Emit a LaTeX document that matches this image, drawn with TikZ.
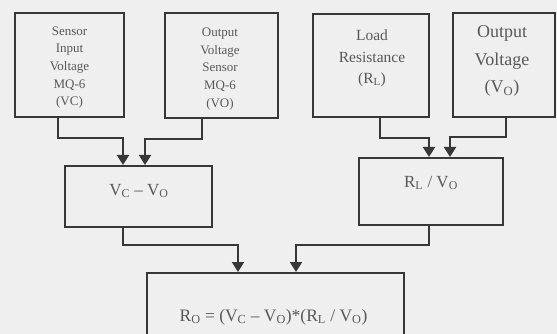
\documentclass[tikz,border=0pt]{standalone}
\usepackage{fontspec}
\setmainfont{Liberation Serif}
\usetikzlibrary{arrows.meta,positioning}
\definecolor{linea}{RGB}{55,55,55}
\definecolor{tinta}{RGB}{88,88,88}
\definecolor{fondo}{RGB}{239,239,239}

\begin{document}
\begin{tikzpicture}[x=1pt,y=-1pt,
  caja/.style={draw=linea, line width=2pt, inner sep=0pt},
  texto/.style={text=tinta, align=center, inner sep=0pt},
  flecha/.style={draw=linea, line width=2pt, -{Triangle[width=12pt,length=10pt]}}]
  % Fondo y marco
  \fill[fondo] (0,0) rectangle (557,334);
  \useasboundingbox (0,0) rectangle (557,334);
  \clip (0,0) rectangle (557,334);

  % Cajas de entrada
  \node[caja, minimum width=109pt, minimum height=104pt] (vin) at (69.5,65) {};
  \node[caja, minimum width=113pt, minimum height=105pt] (vout) at (221.5,65.5) {};
  \node[caja, minimum width=116pt, minimum height=103pt] (rload) at (371,65.5) {};
  \node[caja, minimum width=102pt, minimum height=104pt] (vo) at (504,65) {};

  % Cajas de calculo
  \node[caja, minimum width=147pt, minimum height=61pt] (resta) at (138.5,196.5) {};
  \node[caja, minimum width=144pt, minimum height=67pt] (cociente) at (431,191.5) {};
  \node[caja, minimum width=257pt, minimum height=78pt] (ro) at (275.5,312) {};

  % Textos
  \node[texto, font=\fontsize{13}{17.7}\selectfont] (vintxt) at (69.5,67.5)
    {Sensor\\Input\\Voltage\\MQ-6\\(VC)};
  \node[texto, font=\fontsize{13}{17.7}\selectfont] (vouttxt) at (220,69)
    {Output\\Voltage\\Sensor\\MQ-6\\(VO)};
  \node[texto, font=\fontsize{15.5}{21.5}\selectfont] (rloadtxt) at (372,58.5)
    {Load\\Resistance\\(R\textsubscript{L})};
  \node[texto, font=\fontsize{18}{27.5}\selectfont] (votxt) at (502,61)
    {Output\\Voltage\\(V\textsubscript{O})};
  \node[texto, font=\fontsize{17}{18}\selectfont] (restatxt) at (139,191)
    {V\textsubscript{C} -- V\textsubscript{O}};
  \node[texto, font=\fontsize{17}{18}\selectfont] (cocientetxt) at (431,183)
    {R\textsubscript{L} / V\textsubscript{O}};
  \node[texto, font=\fontsize{17.5}{18}\selectfont] (rotxt) at (273.5,317)
    {R\textsubscript{O} = (V\textsubscript{C} -- V\textsubscript{O})*(R\textsubscript{L} / V\textsubscript{O})};

  % Conexiones
  \draw[flecha] ([xshift=-11.5pt]vin.south) -- ++(0,20) -| ([xshift=-15.5pt]resta.north);
  \draw[flecha] ([xshift=-19.5pt]vout.south) -- ++(0,20) -| ([xshift=6.5pt]resta.north);
  \draw[flecha] ([xshift=9pt]rload.south) -- ++(0,20) -| ([xshift=-2pt]cociente.north);
  \draw[flecha] ([xshift=2pt]vo.south) -- ++(0,19) -| ([xshift=19pt]cociente.north);
  \draw[flecha] ([xshift=-15.5pt]resta.south) -- ++(0,17) -| ([xshift=-37.5pt]ro.north);
  \draw[flecha] ([xshift=-2pt]cociente.south) -- ++(0,19) -| ([xshift=20.5pt]ro.north);
\end{tikzpicture}
\end{document}
